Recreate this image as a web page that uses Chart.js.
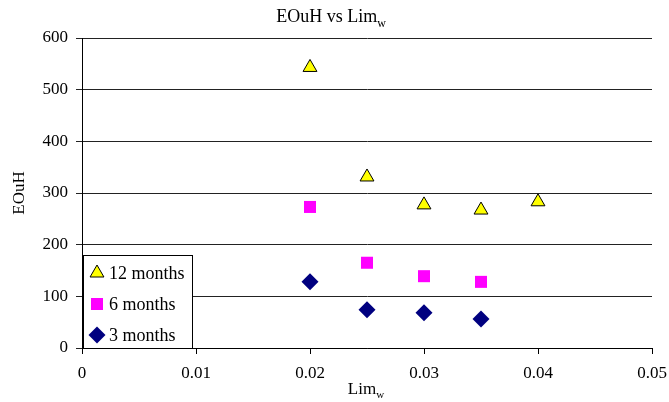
<!DOCTYPE html>
<html>
<head>
<meta charset="utf-8">
<script src="https://cdn.jsdelivr.net/npm/chart.js@4.4.0/dist/chart.umd.min.js"></script>
<style>
  html, body { margin: 0; padding: 0; background: #fff; }
  #wrap { width: 669px; height: 402px; position: relative; }
</style>
</head>
<body>
<div id="wrap"><canvas id="chart"></canvas></div>
<script>
const limW = [0.02, 0.025, 0.03, 0.035, 0.04];
const months12 = [543, 331, 277, 267, 283];
const months6 = [273, 165, 139, 128];
const months3 = [128, 74, 68, 56];
const seriesLabels = ['12 months', '6 months', '3 months'];
const yTicks = [0, 100, 200, 300, 400, 500, 600];
const xTicks = [0, 0.01, 0.02, 0.03, 0.04, 0.05];

const FONT = "'Liberation Serif', 'Times New Roman', serif";

function toPoints(values) {
  return values.map((v, i) => ({ x: limW[i], y: v }));
}

// draws a marker with the dataset's own colours (used by the legend)
function marker(ctx, ds, x, y) {
  ctx.save();
  ctx.fillStyle = ds.backgroundColor;
  ctx.strokeStyle = ds.borderColor;
  ctx.lineWidth = ds.borderWidth;
  Chart.helpers.drawPoint(ctx, {
    pointStyle: ds.pointStyle,
    radius: ds.pointRadius,
    borderWidth: ds.borderWidth
  }, x, y);
  ctx.restore();
}

// title, axis titles with subscript, and the boxed legend inside the plot
const decorations = {
  id: 'decorations',
  afterDraw(chart) {
    const { ctx, chartArea } = chart;
    ctx.save();
    ctx.fillStyle = '#000';
    ctx.textBaseline = 'alphabetic';

    const sub = (main, s, cx, y, size) => {
      const subSize = Math.round(size * 0.65);
      ctx.font = size + 'px ' + FONT;
      const w1 = ctx.measureText(main).width;
      ctx.font = subSize + 'px ' + FONT;
      const w2 = ctx.measureText(s).width;
      const x0 = cx - (w1 + w2) / 2;
      ctx.textAlign = 'left';
      ctx.font = size + 'px ' + FONT;
      ctx.fillText(main, x0, y);
      ctx.font = subSize + 'px ' + FONT;
      ctx.fillText(s, x0 + w1, y + size * 0.25);
    };

    sub('EOuH vs Lim', 'w', 331, 22, 18);
    sub('Lim', 'w', 366, 394, 17);

    ctx.save();
    ctx.translate(19, (chartArea.top + chartArea.bottom) / 2);
    ctx.rotate(-Math.PI / 2);
    ctx.font = '17px ' + FONT;
    ctx.textAlign = 'center';
    ctx.fillText('EOuH', 0, 5);
    ctx.restore();

    // legend box
    const bx = chartArea.left + 1, by = 255, bw = 109, bh = chartArea.bottom - by;
    ctx.fillStyle = '#fff';
    ctx.fillRect(bx, by, bw, bh);
    ctx.strokeStyle = '#000';
    ctx.lineWidth = 1;
    ctx.strokeRect(bx + 0.5, by + 0.5, bw, bh);

    chart.data.datasets.forEach((ds, i) => {
      const y = by + 18 + i * 31;
      marker(ctx, ds, bx + 14, y);
      ctx.fillStyle = '#000';
      ctx.font = '18px ' + FONT;
      ctx.textAlign = 'left';
      ctx.textBaseline = 'middle';
      ctx.fillText(ds.label, bx + 26, y + 1);
    });
    ctx.restore();
  }
};

new Chart(document.getElementById('chart'), {
  type: 'scatter',
  data: {
    datasets: [
      {
        label: seriesLabels[0],
        data: toPoints(months12),
        pointStyle: 'triangle',
        pointRadius: 8,
        backgroundColor: '#ffff00',
        borderColor: '#000000',
        borderWidth: 1
      },
      {
        label: seriesLabels[1],
        data: toPoints(months6),
        pointStyle: 'rect',
        pointRadius: 8.5,
        backgroundColor: '#ff00ff',
        borderColor: '#ff00ff',
        borderWidth: 0
      },
      {
        label: seriesLabels[2],
        data: toPoints(months3),
        pointStyle: 'rectRot',
        pointRadius: 8.5,
        backgroundColor: '#000080',
        borderColor: '#000080',
        borderWidth: 0
      }
    ]
  },
  options: {
    responsive: true,
    maintainAspectRatio: false,
    animation: false,
    layout: { padding: { top: 38, right: 17, left: 0, bottom: 0 } },
    plugins: {
      legend: { display: false },
      title: { display: false },
      tooltip: { enabled: false }
    },
    scales: {
      x: {
        type: 'linear',
        min: xTicks[0],
        max: xTicks[xTicks.length - 1],
        afterFit: (scale) => {
          scale.height = 54;
          scale.paddingLeft = 0;
          scale.paddingRight = 0;
        },
        afterBuildTicks: (scale) => { scale.ticks = xTicks.map((v) => ({ value: v })); },
        ticks: {
          color: '#000',
          font: { family: FONT, size: 17 },
          padding: 9,
          maxRotation: 0,
          callback: (v) => String(v)
        },
        grid: {
          drawOnChartArea: false,
          drawTicks: true,
          tickLength: 6,
          color: '#000'
        },
        border: { color: '#000', width: 1 }
      },
      y: {
        min: yTicks[0],
        max: yTicks[yTicks.length - 1],
        afterFit: (scale) => { scale.width = 82; },
        afterBuildTicks: (scale) => { scale.ticks = yTicks.map((v) => ({ value: v })); },
        ticks: {
          color: '#000',
          font: { family: FONT, size: 17 },
          padding: 8
        },
        grid: {
          color: '#222',
          lineWidth: 1,
          tickLength: 6
        },
        border: { color: '#000', width: 1 }
      }
    }
  },
  plugins: [decorations]
});
</script>
</body>
</html>
